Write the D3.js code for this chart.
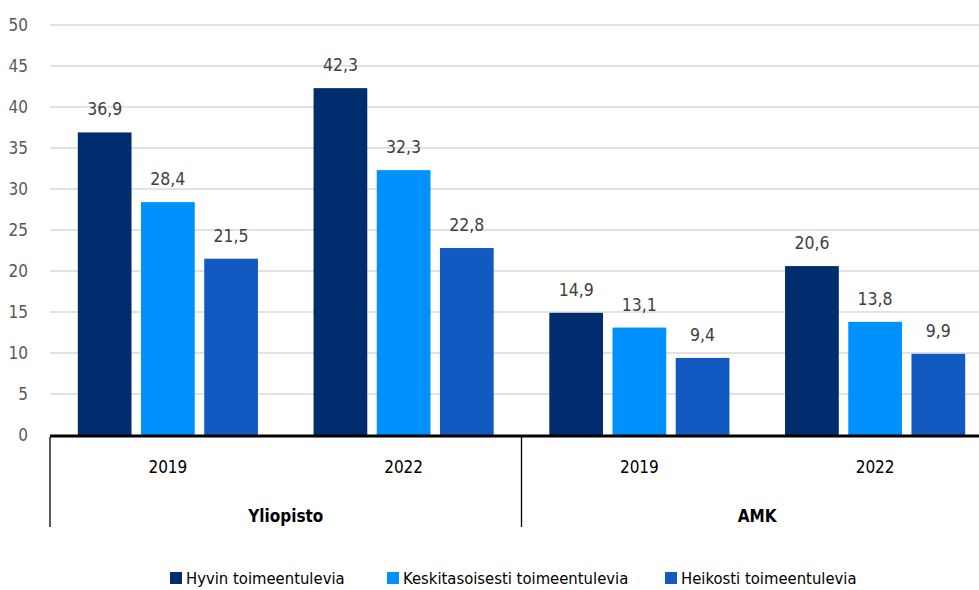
<!DOCTYPE html>
<html>
<head>
<meta charset="utf-8">
<script src="https://cdn.jsdelivr.net/npm/d3@7"></script>
<style>
  body { margin: 0; background: #fff; }
  svg text { font-family: "DejaVu Sans", sans-serif; font-stretch: condensed; }
</style>
</head>
<body>
<div id="chart"></div>
<script>
// data
var groups = ['Yliopisto', 'AMK'];
var years = ['2019', '2022'];
var series = ['Hyvin toimeentulevia', 'Keskitasoisesti toimeentulevia', 'Heikosti toimeentulevia'];
var hyvin = [36.9, 42.3, 14.9, 20.6];
var keski = [28.4, 32.3, 13.1, 13.8];
var heikko = [21.5, 22.8, 9.4, 9.9];
var y_ticks = [0, 5, 10, 15, 20, 25, 30, 35, 40, 45, 50];
var colors = ['#002D6E', '#0091FF', '#1259C2'];

var chart_width = 979;
var chart_height = 590;
var plot_left = 50, plot_right = 993, plot_top = 25, zero_y = 435;

var svg = d3.select('#chart').append('svg')
  .attr('width', chart_width)
  .attr('height', chart_height);

// one column per group/year
var cols = [];
groups.forEach(function(g) {
  years.forEach(function(y) { cols.push(g + '|' + y); });
});
var values = [hyvin, keski, heikko];

var x_scale = d3.scaleBand()
  .domain(cols)
  .range([plot_left, plot_right])
  .paddingInner(0)
  .paddingOuter(0);
//bars inside each column
var x_inner = d3.scaleBand()
  .domain(d3.range(series.length))
  .range([0, x_scale.bandwidth()])
  .paddingInner(0.15)
  .paddingOuter(0.44);
var y_scale = d3.scaleLinear().domain([0, 50]).range([zero_y, plot_top]);

// gridlines
svg.append('g').selectAll('line')
  .data(y_ticks.slice(1))
  .enter().append('line')
  .attr('x1', plot_left).attr('x2', chart_width)
  .attr('y1', function(d) { return y_scale(d); })
  .attr('y2', function(d) { return y_scale(d); })
  .attr('stroke', '#d9d9d9')
  .attr('stroke-width', 1.3);

// y labels
svg.append('g').selectAll('text')
  .data(y_ticks)
  .enter().append('text')
  .attr('x', 28)
  .attr('y', function(d) { return y_scale(d) + 6; })
  .attr('text-anchor', 'end')
  .attr('font-size', 17)
  .attr('fill', '#595959')
  .text(function(d) { return d; });

// bars
var bar_data = [];
cols.forEach(function(c, ci) {
  series.forEach(function(s, si) {
    bar_data.push({ col: c, s: si, v: values[si][ci] });
  });
});

svg.append('g').selectAll('rect')
  .data(bar_data)
  .enter().append('rect')
  .attr('x', function(d) { return x_scale(d.col) + x_inner(d.s); })
  .attr('y', function(d) { return y_scale(d.v); })
  .attr('width', x_inner.bandwidth())
  .attr('height', function(d) { return zero_y - y_scale(d.v); })
  .attr('fill', function(d) { return colors[d.s]; });

// value labels
svg.append('g').selectAll('text')
  .data(bar_data)
  .enter().append('text')
  .attr('x', function(d) { return x_scale(d.col) + x_inner(d.s) + x_inner.bandwidth() / 2; })
  .attr('y', function(d) { return y_scale(d.v) - 17; })
  .attr('text-anchor', 'middle')
  .attr('font-size', 17.5)
  .attr('fill', '#404040')
  .text(function(d) { return String(d.v).replace('.', ','); });

// zero line
svg.append('line')
  .attr('x1', plot_left).attr('x2', chart_width)
  .attr('y1', zero_y + 1).attr('y2', zero_y + 1)
  .attr('stroke', '#000').attr('stroke-width', 3);

// group separators
var seps = [plot_left, x_scale(cols[2])];
svg.append('g').selectAll('line')
  .data(seps)
  .enter().append('line')
  .attr('x1', function(d) { return d; })
  .attr('x2', function(d) { return d; })
  .attr('y1', zero_y + 2).attr('y2', 527)
  .attr('stroke', '#000').attr('stroke-width', 1.3);

// year labels
svg.append('g').selectAll('text')
  .data(cols)
  .enter().append('text')
  .attr('x', function(d) { return x_scale(d) + x_scale.bandwidth() / 2; })
  .attr('y', 473)
  .attr('text-anchor', 'middle')
  .attr('font-size', 17)
  .attr('fill', '#000')
  .text(function(d) { return d.split('|')[1]; });

// group labels
svg.append('g').selectAll('text')
  .data(groups)
  .enter().append('text')
  .attr('x', function(d, i) { return x_scale(cols[i * 2]) + x_scale.bandwidth(); })
  .attr('y', 522)
  .attr('text-anchor', 'middle')
  .attr('font-size', 17)
  .attr('font-weight', 'bold')
  .attr('fill', '#000')
  .text(function(d) { return d; });

// legend
var legend_x = [170, 387, 665];
var legend = svg.append('g').selectAll('g')
  .data(series)
  .enter().append('g')
  .attr('transform', function(d, i) { return 'translate(' + legend_x[i] + ',572)'; });
legend.append('rect')
  .attr('width', 12).attr('height', 12)
  .attr('fill', function(d, i) { return colors[i]; });
legend.append('text')
  .attr('x', 16).attr('y', 12)
  .attr('font-size', 16.5)
  .attr('fill', '#000')
  .text(function(d) { return d; });
</script>
</body>
</html>
